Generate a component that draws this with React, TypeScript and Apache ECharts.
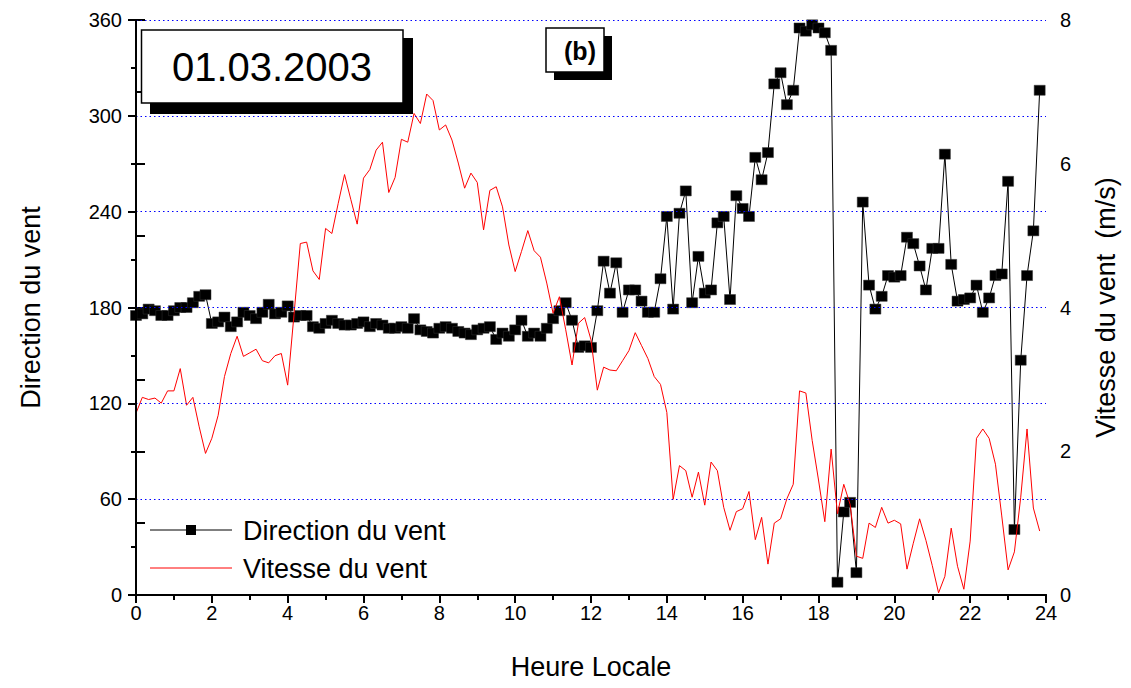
import React, { useEffect, useRef } from "react";
import * as echarts from "echarts";

// 10-minute samples, 00:00 .. 23:50
const direction: number[] = [
  175, 176, 179, 178, 175, 175, 178, 180, 180, 183, 187, 188,
  170, 171, 174, 168, 171, 177, 175, 173, 177, 182, 176, 177,
  181, 174, 175, 175, 168, 167, 170, 172, 170, 169, 169, 170,
  171, 168, 170, 169, 167, 167, 168, 167, 173, 166, 165, 164,
  167, 168, 167, 165, 164, 163, 166, 167, 168, 160, 164, 162,
  166, 172, 162, 164, 162, 167, 173, 178, 183, 172, 155, 156,
  155, 178, 209, 189, 208, 177, 191, 191, 184, 177, 177, 198,
  237, 179, 239, 253, 183, 212, 189, 191, 233, 237, 185, 250,
  242, 237, 274, 260, 277, 320, 327, 307, 316, 355, 353, 357,
  355, 352, 341, 8, 52, 58, 14, 246, 194, 179, 187, 200,
  199, 200, 224, 220, 206, 191, 217, 217, 276, 207, 184, 185,
  186, 194, 177, 186, 200, 201, 259, 41, 147, 200, 228, 316,
];

const speed: number[] = [
  2.53, 2.75, 2.72, 2.74, 2.67, 2.84, 2.84, 3.15, 2.64, 2.75, 2.34, 1.97,
  2.18, 2.5, 3.04, 3.36, 3.6, 3.32, 3.37, 3.42, 3.26, 3.23, 3.33, 3.36,
  2.92, 3.9, 4.89, 4.91, 4.51, 4.39, 5.1, 5.03, 5.45, 5.85, 5.5, 5.16,
  5.8, 5.92, 6.19, 6.3, 5.6, 5.81, 6.34, 6.3, 6.7, 6.56, 6.97, 6.88,
  6.47, 6.54, 6.33, 6.01, 5.66, 5.87, 5.74, 5.08, 5.63, 5.68, 5.4, 4.87,
  4.5, 4.78, 5.07, 4.79, 4.7, 4.34, 3.92, 4.15, 3.69, 3.2, 3.78, 3.86,
  3.55, 2.85, 3.17, 3.13, 3.12, 3.26, 3.4, 3.65, 3.47, 3.29, 3.04, 2.93,
  2.54, 1.33, 1.8, 1.73, 1.36, 1.71, 1.25, 1.85, 1.73, 1.22, 0.9, 1.16,
  1.2, 1.44, 0.77, 1.08, 0.43, 1.0, 1.06, 1.34, 1.54, 2.84, 2.81, 2.15,
  1.6, 1.02, 2.03, 1.13, 1.54, 1.26, 0.54, 0.51, 1.0, 0.94, 1.22, 1.0,
  1.04, 0.99, 0.36, 0.72, 1.06, 0.76, 0.41, 0.03, 0.26, 0.93, 0.4, 0.08,
  0.75, 2.18, 2.31, 2.18, 1.82, 1.1, 0.35, 0.6, 1.36, 2.31, 1.21, 0.89,
];

const hours: number[] = direction.map((_, i) => i / 6);

const xTitle = "Heure Locale";
const yLeftTitle = "Direction du vent";
const yRightTitle = "Vitesse du vent  (m/s)";
const dateLabel = "01.03.2003";
const panelLabel = "(b)";
const legendNames = ["Direction du vent", "Vitesse du vent"];

const FONT = "'Liberation Sans', Arial, sans-serif";

export default function App() {
  const ref = useRef<HTMLDivElement>(null);

  useEffect(() => {
    if (!ref.current) return;
    const chart = echarts.init(ref.current, null, { renderer: "svg" });
    const axisLine = { show: true, lineStyle: { color: "#000", width: 2 } };
    const axisLabel = { color: "#000", fontSize: 20, fontFamily: FONT };
    const tickStyle = { color: "#000", width: 2 };
    chart.setOption({
      animation: false,
      backgroundColor: "#fff",
      textStyle: { fontFamily: FONT },
      grid: { left: 136, right: 85, top: 20, bottom: 93 },
      xAxis: [
        {
          type: "value",
          min: 0,
          max: 24,
          interval: 2,
          name: xTitle,
          nameLocation: "middle",
          nameGap: 58,
          nameTextStyle: { color: "#000", fontSize: 27, fontFamily: FONT },
          axisLine,
          axisTick: { show: true, inside: false, length: 8, lineStyle: tickStyle },
          axisLabel: { ...axisLabel, margin: 8 },
          splitLine: { show: false },
          z: 5,
        },
        {
          type: "value",
          position: "top",
          min: 0,
          max: 24,
          interval: 2,
          axisLine,
          axisTick: { show: false },
          axisLabel: { show: false },
          splitLine: { show: false },
        },
        {
          // minor ticks (every hour)
          type: "value",
          position: "bottom",
          min: 0,
          max: 24,
          interval: 1,
          axisLine: { show: false },
          axisTick: { show: true, inside: false, length: 5, lineStyle: tickStyle },
          axisLabel: { show: false },
          splitLine: { show: false },
        },
      ],
      yAxis: [
        {
          type: "value",
          min: 0,
          max: 360,
          interval: 60,
          name: yLeftTitle,
          nameLocation: "middle",
          nameRotate: 90,
          nameGap: 92,
          nameTextStyle: { color: "#000", fontSize: 27, fontFamily: FONT },
          axisLine,
          axisTick: { show: true, inside: false, length: 8, lineStyle: tickStyle },
          axisLabel: { ...axisLabel, margin: 14 },
          splitLine: { show: true, lineStyle: { color: "#0000ff", type: [1.5, 3], width: 1.2 } },
          z: 5,
        },
        {
          type: "value",
          min: 0,
          max: 8,
          interval: 1,
          position: "right",
          name: yRightTitle,
          nameLocation: "middle",
          nameRotate: 90,
          nameGap: 46,
          nameTextStyle: { color: "#000", fontSize: 27, fontFamily: FONT },
          axisLine,
          axisTick: { show: true, inside: false, length: 9, lineStyle: tickStyle },
          axisLabel: {
            ...axisLabel,
            margin: 14,
            formatter: (v: number) => (v % 2 === 0 ? String(v) : ""),
          },
          splitLine: { show: false },
        },
        {
          // minor ticks (every 30 degrees)
          type: "value",
          position: "left",
          min: 0,
          max: 360,
          interval: 30,
          axisLine: { show: false },
          axisTick: { show: true, inside: false, length: 5, lineStyle: tickStyle },
          axisLabel: { show: false },
          splitLine: { show: false },
        },
      ],
      series: [
        {
          name: legendNames[0],
          type: "line",
          xAxisIndex: 0,
          yAxisIndex: 0,
          data: hours.map((h, i) => [h, direction[i]]),
          symbol: "rect",
          symbolSize: [11, 10],
          showAllSymbol: true,
          lineStyle: { color: "#000", width: 1 },
          itemStyle: { color: "#000", borderColor: "#333", borderWidth: 0.5 },
          z: 2,
        },
        {
          name: legendNames[1],
          type: "line",
          xAxisIndex: 0,
          yAxisIndex: 1,
          data: hours.map((h, i) => [h, speed[i]]),
          symbol: "none",
          lineStyle: { color: "#ff0000", width: 1 },
          z: 3,
        },
      ],
      graphic: [
        { type: "rect", shape: { x: 150, y: 38, width: 263, height: 76 }, style: { fill: "#000" }, z: 10 },
        { type: "rect", shape: { x: 141.5, y: 30, width: 261.5, height: 73 }, style: { fill: "#fff", stroke: "#000", lineWidth: 1.5 }, z: 11 },
        {
          type: "text",
          x: 272,
          y: 67,
          style: { text: dateLabel, fill: "#000", font: `40px ${FONT}`, align: "center", verticalAlign: "middle" },
          z: 12,
        },
        { type: "rect", shape: { x: 554, y: 36, width: 58, height: 44 }, style: { fill: "#000" }, z: 10 },
        { type: "rect", shape: { x: 546, y: 28, width: 58, height: 44 }, style: { fill: "#fff", stroke: "#000", lineWidth: 1.5 }, z: 11 },
        {
          type: "text",
          x: 580,
          y: 51,
          style: { text: panelLabel, fill: "#000", font: `bold 25px ${FONT}`, align: "center", verticalAlign: "middle" },
          z: 12,
        },
        { type: "line", shape: { x1: 150, y1: 530, x2: 232, y2: 530 }, style: { stroke: "#000", lineWidth: 1 }, z: 12 },
        { type: "rect", shape: { x: 186, y: 525, width: 10, height: 10 }, style: { fill: "#000" }, z: 12 },
        {
          type: "text",
          x: 243,
          y: 531,
          style: { text: legendNames[0], fill: "#000", font: `27px ${FONT}`, align: "left", verticalAlign: "middle" },
          z: 12,
        },
        { type: "line", shape: { x1: 150, y1: 568, x2: 232, y2: 568 }, style: { stroke: "#ff0000", lineWidth: 1 }, z: 12 },
        {
          type: "text",
          x: 243,
          y: 569,
          style: { text: legendNames[1], fill: "#000", font: `27px ${FONT}`, align: "left", verticalAlign: "middle" },
          z: 12,
        },
      ],
    });
    return () => chart.dispose();
  }, []);

  return (
    <div
      ref={ref}
      style={{ position: "fixed", left: 0, top: 0, width: 1131, height: 688, background: "#fff" }}
    />
  );
}
